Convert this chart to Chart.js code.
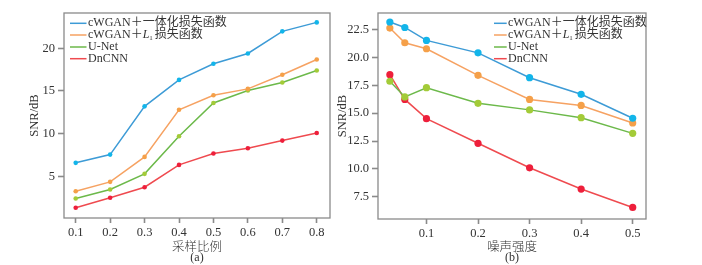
<!DOCTYPE html>
<html>
<head>
<meta charset="utf-8">
<script src="https://cdn.jsdelivr.net/npm/chart.js@4/dist/chart.umd.min.js"></script>
<style>
  html, body { margin: 0; padding: 0; background: #fff; }
  #wrap { position: relative; width: 702px; height: 265px; overflow: hidden; }
  canvas { position: absolute; top: 0; }
  #ca { left: 0; }
  #cb { left: 334px; }
</style>
</head>
<body>
<div id="wrap">
  <canvas id="ca" width="334" height="265"></canvas>
  <canvas id="cb" width="368" height="265"></canvas>
</div>
<script>
// ---------- data ----------
const seriesNames = ['cWGAN＋一体化损失函数', 'cWGAN＋L1损失函数', 'U-Net', 'DnCNN'];

// (a) sampling ratio
const samplingRatio = [0.1, 0.2, 0.3, 0.4, 0.5, 0.6, 0.7, 0.8];
const aCwganUnified = [6.57, 7.54, 13.2, 16.3, 18.2, 19.4, 22.0, 23.05];
const aCwganL1      = [3.24, 4.34, 7.27, 12.8, 14.5, 15.25, 16.9, 18.7];
const aUNet         = [2.39, 3.44, 5.28, 9.69, 13.6, 15.05, 16.0, 17.4];
const aDnCNN        = [1.3, 2.47, 3.71, 6.33, 7.66, 8.28, 9.18, 10.08];
const aXTicks = [0.1, 0.2, 0.3, 0.4, 0.5, 0.6, 0.7, 0.8];
const aYTicks = [5, 10, 15, 20];

// (b) noise level
const noiseLevel = [0.029, 0.058, 0.1, 0.2, 0.3, 0.4, 0.5];
const bCwganUnified = [23.19, 22.7, 21.54, 20.42, 18.19, 16.7, 14.55];
const bCwganL1      = [22.65, 21.33, 20.79, 18.4, 16.24, 15.7, 14.12];
const bUNet         = [17.87, 16.46, 17.29, 15.89, 15.3, 14.6, 13.19];
const bDnCNN        = [18.46, 16.24, 14.51, 12.3, 10.1, 8.19, 6.54];
const bXTicks = [0.1, 0.2, 0.3, 0.4, 0.5];
const bYTicks = [7.5, 10.0, 12.5, 15.0, 17.5, 20.0, 22.5];

// ---------- styles ----------
const lineColors   = ['#3d9bd6', '#f6a262', '#6cb94a', '#ef4a4f'];
const markerColors = ['#12b5ea', '#f5a049', '#a3cb38', '#ee1f3b'];
const frameColor = '#8a8a8a';
const textColor = '#333';
const serif = '"Liberation Serif", "Times New Roman", serif';
const mixed = '"Liberation Serif", "Noto Sans CJK SC", serif';

function pts(xs, ys) { return xs.map((x, i) => ({ x: x, y: ys[i] })); }

function makeDatasets(xs, arrs, radius) {
  return arrs.map((ys, i) => ({
    label: seriesNames[i],
    data: pts(xs, ys),
    borderColor: lineColors[i],
    backgroundColor: markerColors[i],
    pointBackgroundColor: markerColors[i],
    pointBorderWidth: 0,
    pointRadius: radius,
    borderWidth: 1.5,
    tension: 0
  }));
}

function decoPlugin(cfg) {
  return {
    id: 'deco',
    beforeDatasetsDraw(chart) {
      const ctx = chart.ctx, a = chart.chartArea;
      ctx.save();
      ctx.strokeStyle = frameColor;
      ctx.lineWidth = 1.3;
      ctx.strokeRect(a.left, a.top, a.right - a.left, a.bottom - a.top);
      ctx.restore();
    },
    afterDraw(chart) {
      const ctx = chart.ctx, a = chart.chartArea;
      ctx.save();
      ctx.fillStyle = textColor;
      // y title
      ctx.save();
      ctx.translate(cfg.yTitleX, (a.top + a.bottom) / 2);
      ctx.rotate(-Math.PI / 2);
      ctx.font = '12.5px ' + serif;
      ctx.textAlign = 'center';
      ctx.textBaseline = 'middle';
      ctx.fillText('SNR/dB', 0, 0);
      ctx.restore();
      // x title + caption
      const cx = (a.left + a.right) / 2;
      ctx.textAlign = 'center';
      ctx.textBaseline = 'middle';
      ctx.font = '300 12.5px "Noto Sans CJK SC", sans-serif';
      ctx.fillText(cfg.xTitle, cx, 246);
      ctx.font = '12px ' + serif;
      ctx.fillText(cfg.caption, cx, 257.5);
      // legend
      const rows = [23.3, 35, 47, 58.7];
      ctx.textAlign = 'left';
      for (let i = 0; i < 4; i++) {
        const y = rows[i];
        ctx.strokeStyle = lineColors[i];
        ctx.lineWidth = 1.5;
        ctx.beginPath();
        ctx.moveTo(cfg.legX0, y);
        ctx.lineTo(cfg.legX1, y);
        ctx.stroke();
        ctx.fillStyle = textColor;
        let x = cfg.legText;
        if (i === 1) {
          ctx.font = '12px ' + mixed;
          ctx.fillText('cWGAN＋', x, y);
          x += ctx.measureText('cWGAN＋').width;
          ctx.font = 'italic 12px ' + serif;
          ctx.fillText('L', x, y);
          x += ctx.measureText('L').width;
          ctx.font = '7px ' + serif;
          ctx.fillText('1', x, y + 3);
          x += ctx.measureText('1').width + 2;
          ctx.font = '12px ' + mixed;
          ctx.fillText('损失函数', x, y);
        } else {
          ctx.font = '12px ' + mixed;
          ctx.fillText(seriesNames[i], x, y);
        }
      }
      ctx.restore();
    }
  };
}

function makeChart(id, opts) {
  return new Chart(document.getElementById(id), {
    type: 'line',
    data: { datasets: makeDatasets(opts.xs, opts.arrs, opts.radius) },
    options: {
      responsive: false,
      animation: false,
      devicePixelRatio: 1,
      layout: { padding: { left: 0, right: opts.padRight, top: 13, bottom: 0 } },
      plugins: { legend: { display: false }, tooltip: { enabled: false } },
      scales: {
        x: {
          type: 'linear',
          min: opts.xMin, max: opts.xMax,
          afterBuildTicks(s) { s.ticks = opts.xTicks.map(v => ({ value: v })); },
          afterFit(s) { s.height = opts.xHeight; },
          border: { display: false },
          grid: { display: true, drawOnChartArea: false, drawTicks: true, tickLength: 5, tickWidth: 1.6, tickColor: frameColor },
          ticks: { color: textColor, font: { family: serif, size: 12.5 }, padding: 2, maxRotation: 0,
                   callback: v => v.toFixed(1) }
        },
        y: {
          type: 'linear',
          min: opts.yMin, max: opts.yMax,
          afterBuildTicks(s) { s.ticks = opts.yTicks.map(v => ({ value: v })); },
          afterFit(s) { s.width = opts.yWidth; },
          border: { display: false },
          grid: { display: true, drawOnChartArea: false, drawTicks: true, tickLength: 6, tickWidth: 1.6, tickColor: frameColor },
          ticks: { color: textColor, font: { family: serif, size: 12.5 }, padding: 3,
                   callback: v => opts.yDec ? v.toFixed(1) : String(v) }
        }
      }
    },
    plugins: [decoPlugin(opts.deco)]
  });
}

makeChart('ca', {
  xs: samplingRatio,
  arrs: [aCwganUnified, aCwganL1, aUNet, aDnCNN],
  radius: 2.3,
  padRight: 3,
  xMin: 0.066, xMax: 0.8385,
  yMin: 0.1, yMax: 24.15,
  xTicks: aXTicks, yTicks: aYTicks,
  xHeight: 47, yWidth: 64, yDec: false,
  deco: { yTitleX: 35, xTitle: '采样比例', caption: '(a)', legX0: 70, legX1: 86.5, legText: 88 }
});

makeChart('cb', {
  xs: noiseLevel,
  arrs: [bCwganUnified, bCwganL1, bUNet, bDnCNN],
  radius: 3.6,
  padRight: 56,
  xMin: 0.006, xMax: 0.5258,
  yMin: 5.5, yMax: 24.0,
  xTicks: bXTicks, yTicks: bYTicks,
  xHeight: 46, yWidth: 44, yDec: true,
  deco: { yTitleX: 9, xTitle: '噪声强度', caption: '(b)', legX0: 160, legX1: 172.7, legText: 174 }
});
</script>
</body>
</html>
